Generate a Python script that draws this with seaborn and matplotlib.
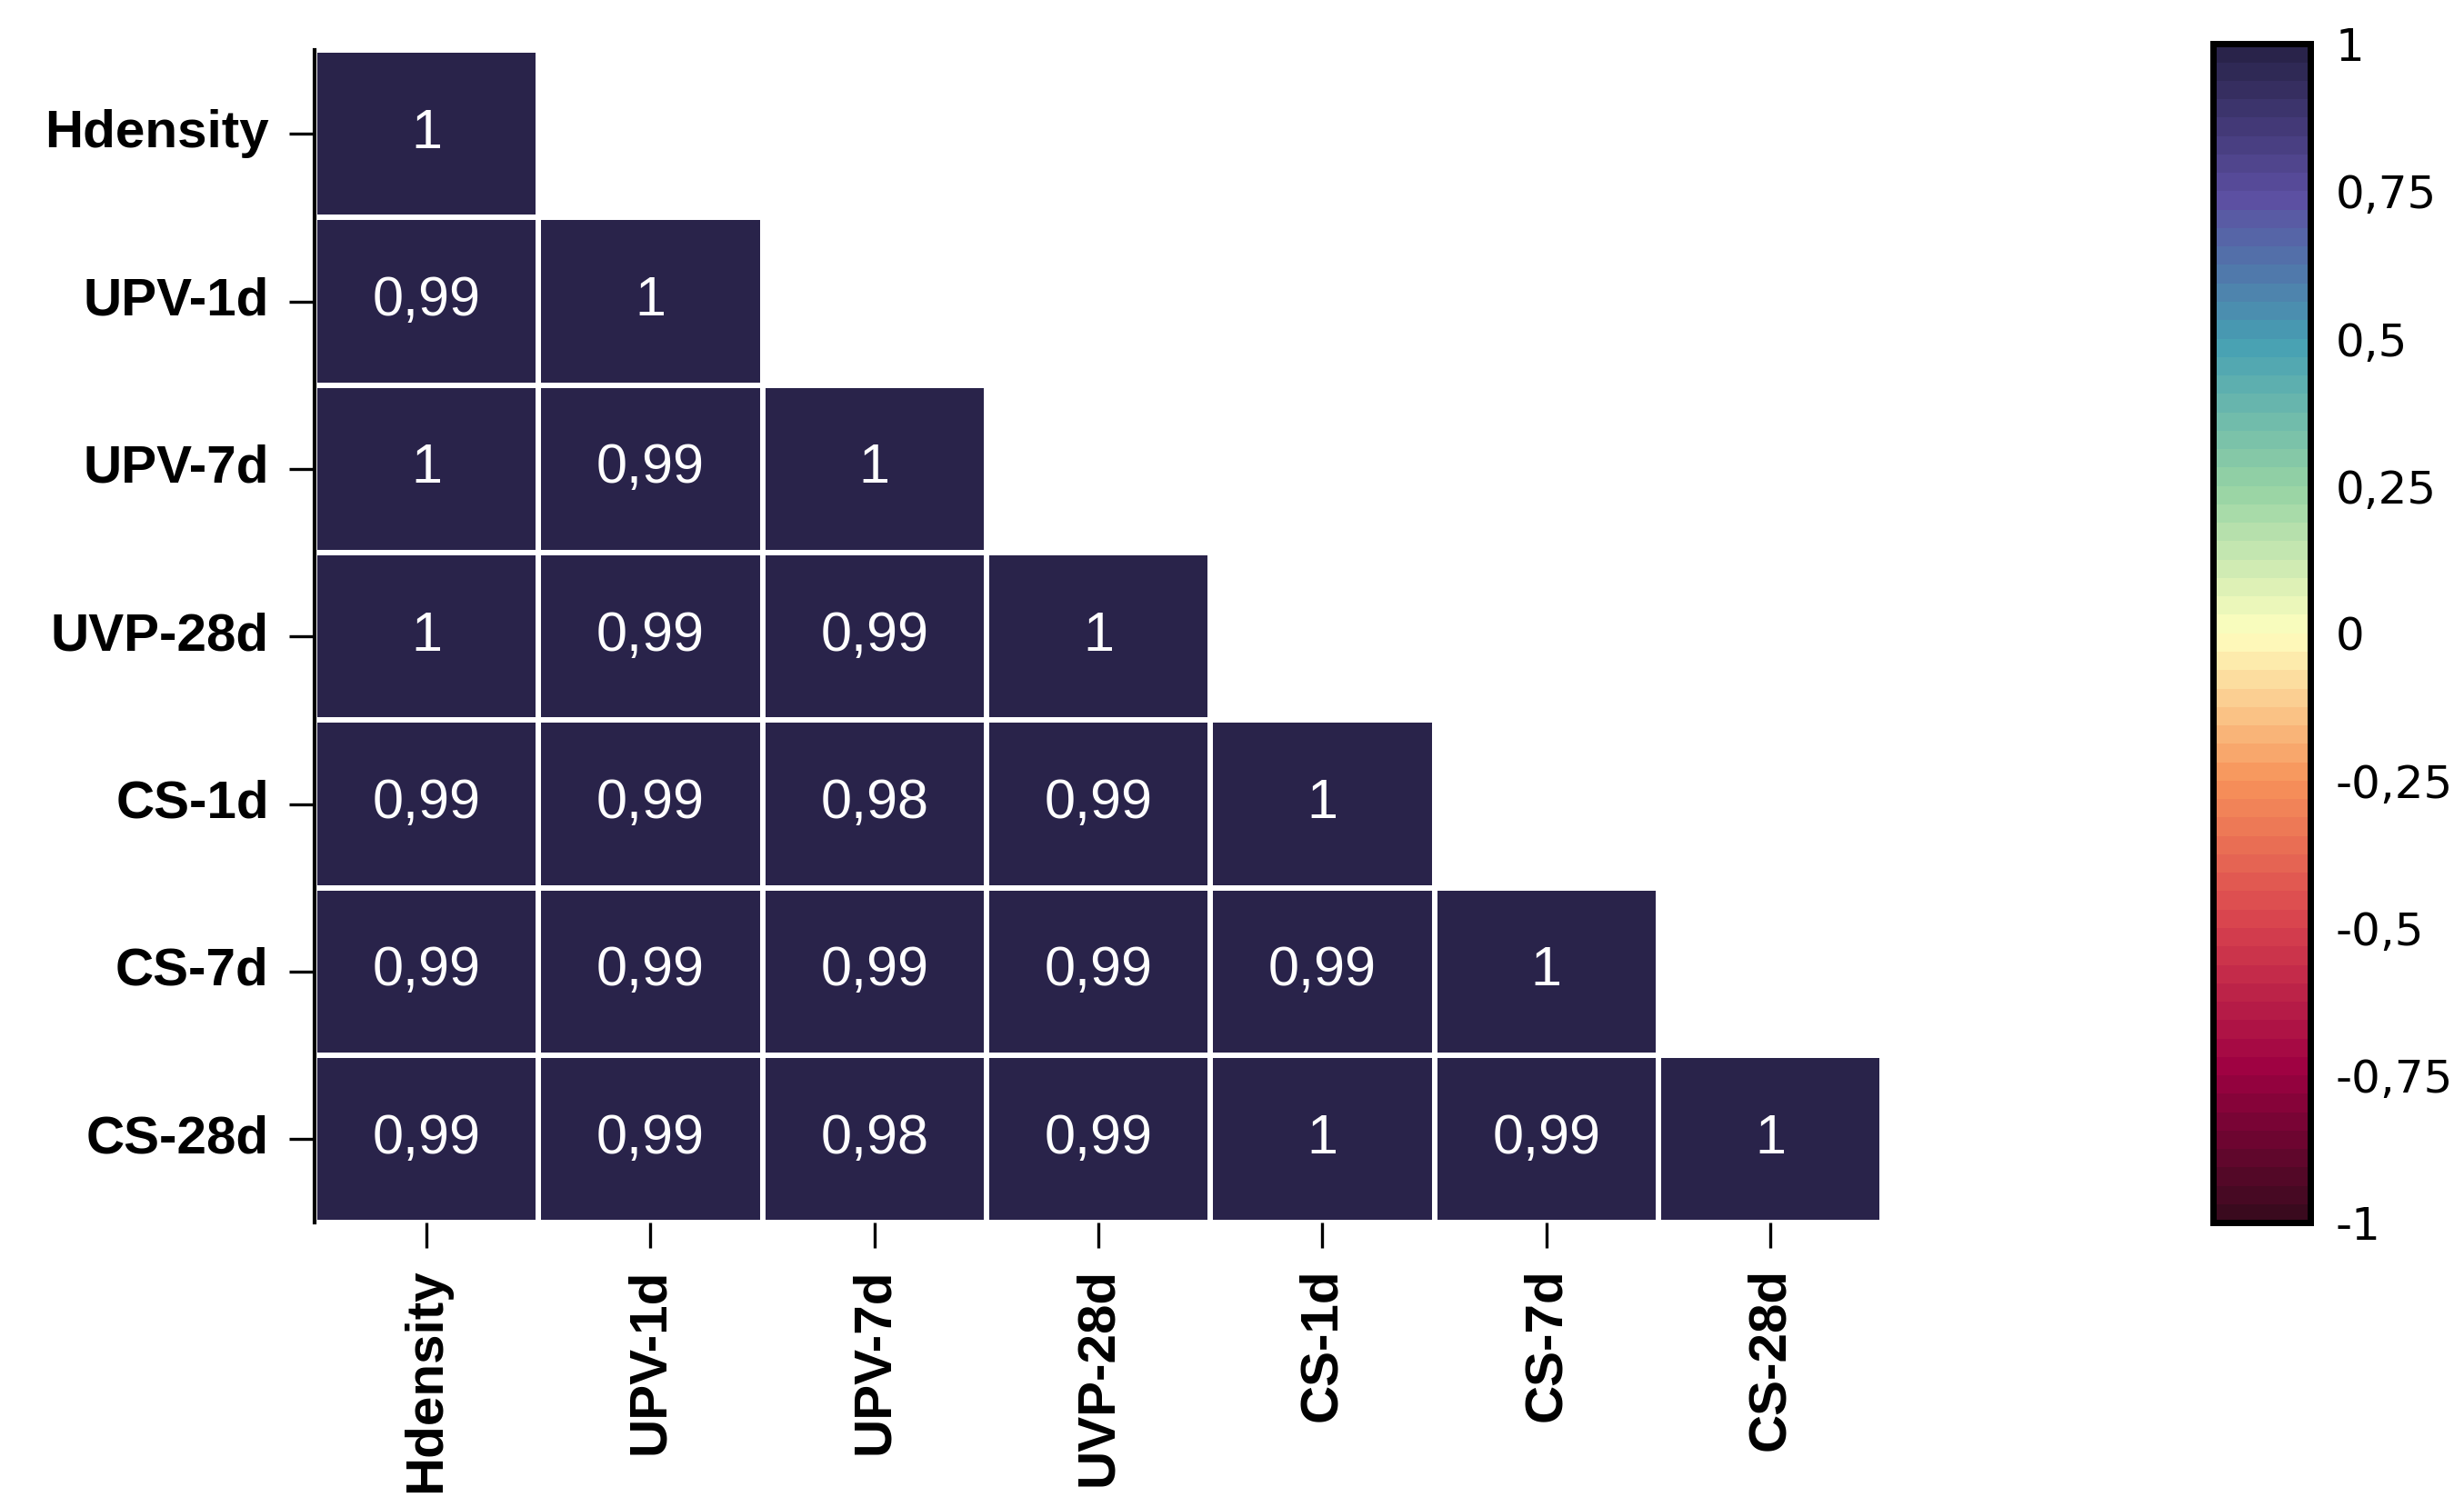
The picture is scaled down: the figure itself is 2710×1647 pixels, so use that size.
import numpy as np
import pandas as pd
import matplotlib
matplotlib.use('Agg')
import matplotlib.pyplot as plt
from matplotlib.colors import LinearSegmentedColormap
import seaborn as sns

sns.set_style('white')
plt.rcParams['font.family'] = ['Liberation Sans', 'DejaVu Sans']
plt.rcParams['text.color'] = 'black'
plt.rcParams['xtick.color'] = 'black'
plt.rcParams['ytick.color'] = 'black'

# variables and lower-triangle correlation values (row by row)
labels = ['Hdensity', 'UPV-1d', 'UPV-7d', 'UVP-28d', 'CS-1d', 'CS-7d', 'CS-28d']
row_hdensity = [1]
row_upv1 = [0.99, 1]
row_upv7 = [1, 0.99, 1]
row_uvp28 = [1, 0.99, 0.99, 1]
row_cs1 = [0.99, 0.99, 0.98, 0.99, 1]
row_cs7 = [0.99, 0.99, 0.99, 0.99, 0.99, 1]
row_cs28 = [0.99, 0.99, 0.98, 0.99, 1, 0.99, 1]
rows = [row_hdensity, row_upv1, row_upv7, row_uvp28, row_cs1, row_cs7, row_cs28]
cbar_ticks = [-1, -0.75, -0.5, -0.25, 0, 0.25, 0.5, 0.75, 1]

n = len(labels)
mat = np.full((n, n), np.nan)
for i, r in enumerate(rows):
    mat[i, :len(r)] = r
    mat[:len(r), i] = r
df = pd.DataFrame(mat, index=labels, columns=labels)

def fmt(v):  # comma decimal, no trailing zeros
    s = ('%.2f' % v).rstrip('0').rstrip('.')
    return s.replace('.', ',')

annot = df.map(fmt).values
mask = np.triu(np.ones((n, n), dtype=bool), k=1)

# Spectral-like map with dark ends
nodes = [(0.0, '#3a0a1e'), (0.125, '#9e0142'), (0.25, '#d8424e'), (0.375, '#f7945a'),
         (0.5, '#ffffbf'), (0.625, '#96d3a4'), (0.75, '#46a0b3'), (0.875, '#5c4fa2'),
         (1.0, '#29234a')]
cmap = LinearSegmentedColormap.from_list('corr', nodes, N=64)

fig = plt.figure(figsize=(13.55, 8.235), dpi=200)
ax = fig.add_axes([0.1276, 0.1832, 0.6364, 0.7833])
cax = fig.add_axes([0.898, 0.1832, 0.0395, 0.7875])

sns.heatmap(df, mask=mask, cmap=cmap, vmin=-1, vmax=1, annot=annot, fmt='',
            annot_kws={'fontsize': 22, 'color': 'white'},
            linewidths=1.5, linecolor='white', ax=ax, cbar_ax=cax,
            cbar_kws={'ticks': cbar_ticks})

ax.set_xticklabels(labels, rotation=90, fontsize=21, fontweight='bold')
ax.set_yticklabels(labels, rotation=0, fontsize=21, fontweight='bold')
ax.tick_params(axis='both', length=10, width=1.2, color='black', pad=8, bottom=True, left=True)
ax.spines['left'].set_visible(True)
ax.spines['left'].set_color('black')
ax.spines['left'].set_linewidth(1.5)

cax.tick_params(direction='in', left=True, right=True, length=9, width=1,
                labelsize=18, pad=10)
cax.set_yticklabels([fmt(t) for t in cbar_ticks], family='DejaVu Sans')
for s in cax.spines.values():
    s.set_visible(True)
    s.set_linewidth(2.5)
    s.set_color('black')

fig.savefig('out.png', dpi=200, facecolor='white')
